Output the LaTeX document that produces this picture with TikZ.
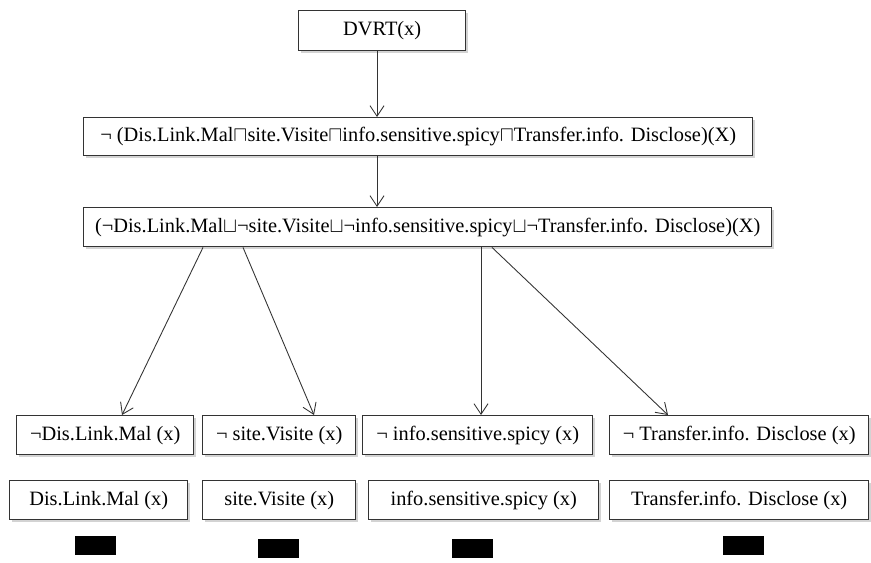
\documentclass[tikz,border=0pt]{standalone}
\usepackage{fontspec}
\setmainfont{Liberation Serif}
\usetikzlibrary{calc,arrows.meta,shadows}

\begin{document}
\begin{tikzpicture}[x=0.02cm, y=-0.02cm,
  box/.style={draw=black!80, line width=0.8pt, fill=white, inner sep=0pt,
    anchor=north west, minimum height=39*0.02cm,
    font=\fontsize{11.6}{13}\selectfont,
    drop shadow={shadow xshift=1.2pt, shadow yshift=-1.2pt, opacity=0.35}},
  arr/.style={draw=black!80, line width=0.5pt, -{Straight Barb[length=6pt,width=8pt]}},
  blk/.style={fill=black}]

% Riquadro
\useasboundingbox (0,0) rectangle (871,562);

% Radice
\node[box, minimum width=167*0.02cm, minimum height=40*0.02cm] (root) at (298,10) {DVRT(x)};

% Negazione
\node[box, minimum width=669*0.02cm, minimum height=38*0.02cm] (neg) at (83,117)
  {\textlnot\ (Dis.Link.Mal$\sqcap$site.Visite$\sqcap$info.sensitive.spicy$\sqcap$Transfer.info. Disclose)(X)};

% De Morgan
\node[box, minimum width=688*0.02cm] (dm) at (83,207)
  {(\textlnot Dis.Link.Mal$\sqcup$\textlnot site.Visite$\sqcup$\textlnot info.sensitive.spicy$\sqcup$\textlnot Transfer.info. Disclose)(X)};

% Rami negati
\node[box, minimum width=177*0.02cm] (na) at (16,415) {\textlnot Dis.Link.Mal (x)};
\node[box, minimum width=153*0.02cm] (nb) at (202,415) {\textlnot\ site.Visite (x)};
\node[box, minimum width=230*0.02cm] (nc) at (362,415) {\textlnot\ info.sensitive.spicy (x)};
\node[box, minimum width=259*0.02cm] (nd) at (609,415) {\textlnot\ Transfer.info. Disclose (x)};

% Rami positivi
\node[box, minimum width=178*0.02cm] (pa) at (9,480) {Dis.Link.Mal (x)\hspace{16pt}};
\node[box, minimum width=153*0.02cm] (pb) at (202,480) {site.Visite (x)};
\node[box, minimum width=230*0.02cm] (pc) at (368,480) {info.sensitive.spicy (x)};
\node[box, minimum width=259*0.02cm] (pd) at (609,480) {Transfer.info. Disclose (x)\hspace{12pt}};

% Chiusure
\fill[blk] (75,536) rectangle (116,555);
\fill[blk] (258,539) rectangle (299,558);
\fill[blk] (452,539) rectangle (493,558);
\fill[blk] (723,536) rectangle (764,555);

% Frecce
\draw[arr] ($(root.south west)+(79,0)$) -- ($(neg.north west)+(294,0)$);
\draw[arr] ($(neg.south west)+(294,0)$) -- ($(dm.north west)+(294,0)$);
\draw[arr] ($(dm.south west)+(120,0)$) -- ($(na.north west)+(106,0)$);
\draw[arr] ($(dm.south west)+(160,0)$) -- ($(nb.north west)+(112,0)$);
\draw[arr] ($(dm.south west)+(398,0)$) -- ($(nc.north west)+(119,0)$);
\draw[arr] ($(dm.south west)+(409,0)$) -- ($(nd.north west)+(59,0)$);

\end{tikzpicture}
\end{document}
